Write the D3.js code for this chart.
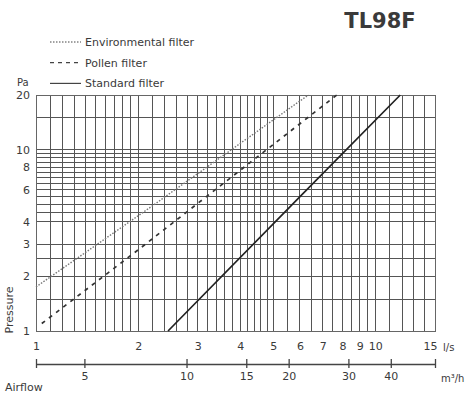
<!DOCTYPE html>
<html>
<head>
<meta charset="utf-8">
<script src="https://cdn.jsdelivr.net/npm/d3@7"></script>
<style>
  body { margin: 0; background: #fff; }
  svg text { font-family: "DejaVu Sans", sans-serif; fill: #3a3a3a; }
</style>
</head>
<body>
<svg id="chart" width="474" height="397"></svg>
<script>
// flow (l/s) ticks and grid
const flowTicks = [1, 2, 3, 4, 5, 6, 7, 8, 9, 10, 15];
const flowGrid = [1.1, 1.2, 1.3, 1.4, 1.5, 1.6, 1.7, 1.8, 1.9, 2,
  2.2, 2.4, 2.6, 2.8, 3, 3.2, 3.4, 3.6, 3.8, 4, 4.2, 4.4, 4.6, 4.8, 5,
  5.5, 6, 6.5, 7, 7.5, 8, 8.5, 9, 9.5, 10, 11, 12, 13, 14];
// pressure (Pa) ticks and grid
const pressureTicks = [1, 2, 3, 4, 6, 8, 10, 20];
const pressureGrid = [1.5, 2, 2.5, 3, 4, 4.5, 5, 5.5, 6, 6.5, 7, 7.5, 8, 8.5, 9, 9.5, 10, 15];
// second axis m3/h
const m3hTicks = [5, 10, 15, 20, 30, 40];

// filter curves
const envFlow = [1, 2.17, 6.35];
const envPressure = [1.75, 4.8, 20];
const pollenFlow = [1.04, 2, 7.7];
const pollenPressure = [1.1, 2.8, 20];
const standardFlow = [2.45, 6, 11.85];
const standardPressure = [1, 5.5, 20];

const legendLabels = ["Environmental filter", "Pollen filter", "Standard filter"];
const legendDash = ["1.5,1.5", "4,4", null];

const svg = d3.select("#chart");

const x = d3.scaleLog().domain([1, 15]).range([36, 435]);
const y = d3.scaleLog().domain([1, 20]).range([331, 95]);
const xm = d3.scaleLog().domain([3.6, 54]).range([36, 435]);

// 格線
const grid = svg.append("g").attr("shape-rendering", "crispEdges");
grid.selectAll(".vgrid")
  .data(flowGrid)
  .join("line")
  .attr("x1", (d) => x(d)).attr("x2", (d) => x(d))
  .attr("y1", y(1)).attr("y2", y(20))
  .attr("stroke", "#555").attr("stroke-width", 1);
grid.selectAll(".hgrid")
  .data(pressureGrid)
  .join("line")
  .attr("x1", x(1)).attr("x2", x(15))
  .attr("y1", (d) => y(d)).attr("y2", (d) => y(d))
  .attr("stroke", "#555").attr("stroke-width", 1);
grid.append("rect")
  .attr("x", x(1)).attr("y", y(20))
  .attr("width", x(15) - x(1)).attr("height", y(1) - y(20))
  .attr("fill", "none").attr("stroke", "#666");

// 曲線
const line = d3.line().x((d) => x(d[0])).y((d) => y(d[1]));
const curves = [
  { flow: envFlow, pressure: envPressure, dash: "1.5,1.5", width: 1.4, color: "#777" },
  { flow: pollenFlow, pressure: pollenPressure, dash: "4,5", width: 1.7, color: "#333" },
  { flow: standardFlow, pressure: standardPressure, dash: null, width: 1.7, color: "#222" },
];
svg.append("g").selectAll("path")
  .data(curves)
  .join("path")
  .attr("d", (c) => line(c.flow.map((f, i) => [f, c.pressure[i]])))
  .attr("fill", "none")
  .attr("stroke", (c) => c.color)
  .attr("stroke-width", (c) => c.width)
  .attr("stroke-dasharray", (c) => c.dash);

// y 軸
const yAxis = svg.append("g")
  .attr("transform", `translate(${x(1) - 3},0)`)
  .call(d3.axisLeft(y).tickValues(pressureTicks).tickFormat(d3.format("d")).tickSize(0));
yAxis.select(".domain").remove();
yAxis.selectAll("text").attr("font-size", 11).attr("font-family", "DejaVu Sans").attr("fill", "#3a3a3a");

svg.append("text").attr("x", 17).attr("y", 86).attr("font-size", 10).text("Pa");
svg.append("text")
  .attr("transform", "translate(13,310) rotate(-90)")
  .attr("text-anchor", "middle").attr("font-size", 11)
  .text("Pressure");

// x 軸 l/s
const xAxis = svg.append("g")
  .attr("transform", `translate(0,${y(1) + 8})`)
  .call(d3.axisBottom(x).tickValues(flowTicks).tickFormat(d3.format("d")).tickSize(0));
xAxis.select(".domain").remove();
xAxis.selectAll("text").attr("font-size", 11).attr("font-family", "DejaVu Sans").attr("fill", "#3a3a3a")
  .attr("dx", (d) => (d === 15 ? -5 : 0));
svg.append("text").attr("x", 443).attr("y", 351).attr("font-size", 10).text("l/s");

// x 軸 m3/h
const mAxis = svg.append("g")
  .attr("transform", "translate(0,364)")
  .call(d3.axisBottom(xm).tickValues([3.6, ...m3hTicks, 54])
    .tickFormat((d) => (m3hTicks.includes(d) ? d : ""))
    .tickSizeInner(4).tickSizeOuter(0).tickPadding(4));
mAxis.select(".domain").attr("stroke", "#444").attr("stroke-width", 1.3);
mAxis.selectAll(".tick line").attr("y1", -5).attr("stroke", "#444").attr("stroke-width", 1.3);
mAxis.selectAll("text").attr("font-size", 11).attr("font-family", "DejaVu Sans").attr("fill", "#3a3a3a");
svg.append("text").attr("x", 441).attr("y", 382).attr("font-size", 10).text("m³/h");
svg.append("text").attr("x", 5).attr("y", 391).attr("font-size", 11).text("Airflow");

// 圖例
const legend = svg.append("g").selectAll("g")
  .data(legendLabels)
  .join("g")
  .attr("transform", (d, i) => `translate(50,${42 + i * 20.7})`);
legend.append("line")
  .attr("x1", 0).attr("x2", 31)
  .attr("stroke", "#444")
  .attr("stroke-width", (d, i) => (i === 0 ? 1 : 1.2))
  .attr("stroke-dasharray", (d, i) => legendDash[i]);
legend.append("text")
  .attr("x", 35).attr("dy", "0.35em")
  .attr("font-size", 11)
  .text((d) => d);

// 標題
svg.append("text")
  .attr("x", 380).attr("y", 28)
  .attr("text-anchor", "middle")
  .attr("font-size", 21).attr("font-weight", "bold")
  .attr("fill", "#222")
  .text("TL98F");
</script>
</body>
</html>
